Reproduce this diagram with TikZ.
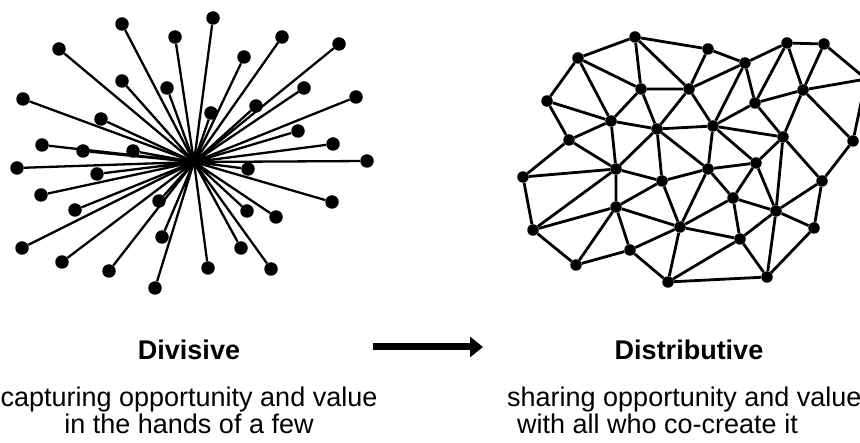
\documentclass[tikz,border=0pt]{standalone}
\usepackage{fontspec}
\setmainfont{Liberation Sans}
\usetikzlibrary{arrows.meta}

\begin{document}
\begin{tikzpicture}[x=1bp,y=-1bp]
	\tikzset{
		v/.style={circle, fill=black, inner sep=0pt, minimum size=13.5bp},
		m/.style={circle, fill=black, inner sep=0pt, minimum size=11.5bp},
		e/.style={draw=black, line width=2.3bp},
		f/.style={draw=black, line width=2.8bp},
		ttl/.style={font=\fontsize{27bp}{27bp}\selectfont\bfseries, anchor=base, inner sep=0pt},
		txt/.style={font=\fontsize{27bp}{27bp}\selectfont, anchor=base, inner sep=0pt}
	}
	\useasboundingbox (0,0) rectangle (860,443);
	
	% divisive: one hub, many spokes
	\coordinate (hub) at (194,162);
	\node[v] (s1) at (122,24) {};   \node[v] (s2) at (175,37) {};
	\node[v] (s3) at (213,18) {};   \node[v] (s4) at (59,49) {};
	\node[v] (s5) at (244,57) {};   \node[v] (s6) at (282,37) {};
	\node[v] (s7) at (339,44) {};   \node[v] (s8) at (122,81) {};
	\node[v] (s9) at (167,88) {};   \node[v] (s10) at (23,99) {};
	\node[v] (s11) at (304,88) {};  \node[v] (s12) at (356,97) {};
	\node[v] (s13) at (101,119) {}; \node[v] (s14) at (211,113) {};
	\node[v] (s15) at (256,106) {}; \node[v] (s16) at (298,131) {};
	\node[v] (s17) at (42,145) {};  \node[v] (s18) at (83,151) {};
	\node[v] (s19) at (133,151) {}; \node[v] (s20) at (333,144) {};
	\node[v] (s21) at (17,168) {};  \node[v] (s22) at (97,174) {};
	\node[v] (s23) at (367,161) {}; \node[v] (s24) at (248,169) {};
	\node[v] (s25) at (41,195) {};  \node[v] (s26) at (75,210) {};
	\node[v] (s27) at (159,201) {}; \node[v] (s28) at (332,202) {};
	\node[v] (s29) at (247,211) {}; \node[v] (s30) at (276,217) {};
	\node[v] (s31) at (22,248) {};  \node[v] (s32) at (62,262) {};
	\node[v] (s33) at (162,237) {}; \node[v] (s34) at (109,271) {};
	\node[v] (s35) at (155,288) {}; \node[v] (s36) at (208,268) {};
	\node[v] (s37) at (241,248) {}; \node[v] (s38) at (271,269) {};
	
	\draw[e] (hub)--(s1) (hub)--(s2) (hub)--(s3) (hub)--(s4) (hub)--(s5);
	\draw[e] (hub)--(s6) (hub)--(s7) (hub)--(s8) (hub)--(s9) (hub)--(s10);
	\draw[e] (hub)--(s11) (hub)--(s12) (hub)--(s13) (hub)--(s14) (hub)--(s15);
	\draw[e] (hub)--(s16) (hub)--(s17) (hub)--(s18) (hub)--(s19) (hub)--(s20);
	\draw[e] (hub)--(s21) (hub)--(s22) (hub)--(s23) (hub)--(s24) (hub)--(s25);
	\draw[e] (hub)--(s26) (hub)--(s27) (hub)--(s28) (hub)--(s29) (hub)--(s30);
	\draw[e] (hub)--(s31) (hub)--(s32) (hub)--(s33) (hub)--(s34) (hub)--(s35);
	\draw[e] (hub)--(s36) (hub)--(s37) (hub)--(s38);
	
	% distributive: mesh
	\node[m] (m1) at (635,37) {};   \node[m] (m2) at (578,58) {};
	\node[m] (m3) at (547,101) {};  \node[m] (m4) at (641,89) {};
	\node[m] (m5) at (689,89) {};   \node[m] (m6) at (611,121) {};
	\node[m] (m7) at (657,129) {};  \node[m] (m8) at (569,140) {};
	\node[m] (m9) at (708,49) {};   \node[m] (m10) at (745,63) {};
	\node[m] (m11) at (787,43) {};  \node[m] (m12) at (824,44) {};
	\node[m] (m13) at (755,103) {}; \node[m] (m14) at (803,90) {};
	\node[m] (m15) at (866,79) {};  \node[m] (m16) at (713,126) {};
	\node[m] (m17) at (783,137) {}; \node[m] (m18) at (853,141) {};
	\node[m] (m19) at (523,177) {}; \node[m] (m20) at (616,169) {};
	\node[m] (m21) at (662,181) {}; \node[m] (m22) at (616,207) {};
	\node[m] (m23) at (533,230) {}; \node[m] (m24) at (680,227) {};
	\node[m] (m25) at (630,250) {}; \node[m] (m26) at (576,265) {};
	\node[m] (m27) at (668,282) {}; \node[m] (m28) at (708,169) {};
	\node[m] (m29) at (756,163) {}; \node[m] (m30) at (822,181) {};
	\node[m] (m31) at (733,198) {}; \node[m] (m32) at (776,211) {};
	\node[m] (m33) at (814,228) {}; \node[m] (m34) at (740,239) {};
	\node[m] (m35) at (767,277) {};
	
	\draw[f] (m1)--(m2) (m1)--(m4) (m1)--(m5) (m1)--(m9);
	\draw[f] (m2)--(m3) (m2)--(m4) (m2)--(m6);
	\draw[f] (m3)--(m6) (m3)--(m8);
	\draw[f] (m4)--(m5) (m4)--(m6) (m4)--(m7);
	\draw[f] (m5)--(m7) (m5)--(m9) (m5)--(m10) (m5)--(m16);
	\draw[f] (m6)--(m7) (m6)--(m8) (m6)--(m20);
	\draw[f] (m7)--(m16) (m7)--(m20) (m7)--(m21) (m7)--(m28);
	\draw[f] (m8)--(m19) (m8)--(m20);
	\draw[f] (m9)--(m10);
	\draw[f] (m10)--(m11) (m10)--(m13) (m10)--(m16);
	\draw[f] (m11)--(m12) (m11)--(m13) (m11)--(m14);
	\draw[f] (m12)--(m14) (m12)--(m15);
	\draw[f] (m13)--(m14) (m13)--(m16) (m13)--(m17);
	\draw[f] (m14)--(m15) (m14)--(m17) (m14)--(m18);
	\draw[f] (m15)--(m18);
	\draw[f] (m16)--(m17) (m16)--(m28) (m16)--(m29);
	\draw[f] (m17)--(m29) (m17)--(m32) (m17)--(m30);
	\draw[f] (m18)--(m30);
	\draw[f] (m19)--(m20) (m19)--(m23);
	\draw[f] (m20)--(m21) (m20)--(m22) (m20)--(m23);
	\draw[f] (m21)--(m22) (m21)--(m24) (m21)--(m28);
	\draw[f] (m22)--(m23) (m22)--(m24) (m22)--(m25) (m22)--(m26);
	\draw[f] (m23)--(m26);
	\draw[f] (m24)--(m25) (m24)--(m27) (m24)--(m28) (m24)--(m31) (m24)--(m34);
	\draw[f] (m25)--(m26) (m25)--(m27);
	\draw[f] (m27)--(m34) (m27)--(m35);
	\draw[f] (m28)--(m29) (m28)--(m31);
	\draw[f] (m29)--(m31) (m29)--(m32);
	\draw[f] (m30)--(m32) (m30)--(m33);
	\draw[f] (m31)--(m32) (m31)--(m34);
	\draw[f] (m32)--(m33) (m32)--(m34) (m32)--(m35);
	\draw[f] (m33)--(m35) (m34)--(m35);
	
	% arrow between the two
	\coordinate (a1) at (373,347);
	\coordinate (a2) at (483,347);
	\draw[line width=7bp, -{Triangle[length=13bp,width=20bp]}] (a1)--(a2);
	
	% captions
	\node[ttl] (t1) at (189,360) {Divisive};
	\node[txt] (d1a) at (189,406) {capturing opportunity and value};
	\node[txt] (d1b) at (189,433) {in the hands of a few};
	\node[ttl] (t2) at (689,360) {Distributive};
	\node[txt, anchor=base west] (d2a) at (507,406) {sharing opportunity and value};
	\node[txt, anchor=base west] (d2b) at (517,433) {with all who co-create it};
\end{tikzpicture}
\end{document}
